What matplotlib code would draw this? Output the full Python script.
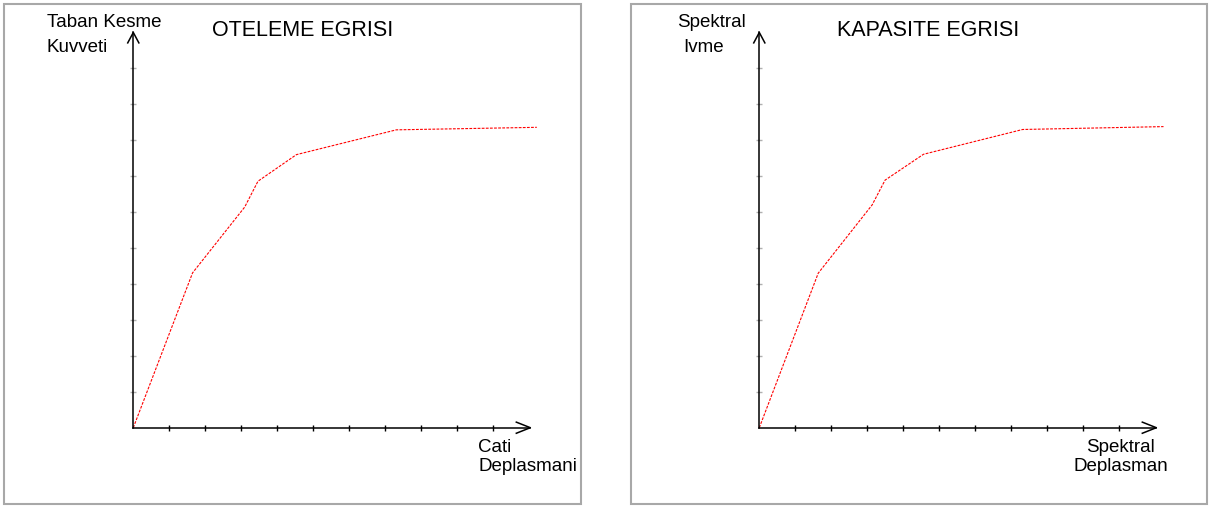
import matplotlib
matplotlib.use("Agg")
import matplotlib.pyplot as plt
from matplotlib.patches import Rectangle

# curve values, in tick units (10 ticks on each axis)
oteleme_x = [0, 1.65, 3.10, 3.47, 4.54, 7.32, 11.23]
oteleme_y = [0, 4.31, 6.14, 6.86, 7.60, 8.29, 8.36]
kapasite_x = [0, 1.64, 3.14, 3.50, 4.57, 7.33, 11.25]
kapasite_y = [0, 4.30, 6.20, 6.89, 7.61, 8.30, 8.38]
tick_pos = list(range(1, 11))

titles = ["OTELEME EGRISI", "KAPASITE EGRISI"]
ylabels = [["Taban Kesme", "Kuvveti"], ["Spektral", "Ivme"]]
xlabels = [["Cati", "Deplasmani"], ["Spektral", "Deplasman"]]

W, H = 1213, 508
fig = plt.figure(figsize=(W / 100, H / 100), dpi=100)
fig.patch.set_facecolor("white")

lab_font = ["Liberation Sans", "DejaVu Sans"]
u = 35.93  # pixels per tick

def px(x, y):
    return x / W, 1 - y / H

def panel(box, origin, xs, ys, title, title_x, ylab, ylab_x, xlab, xlab_x, xlab_ha):
    x0, y0, x1, y1 = box
    ox, oy = origin
    ax = fig.add_axes([x0 / W, 1 - y1 / H, (x1 - x0) / W, (y1 - y0) / H])
    ax.set_xlim((x0 - ox) / u, (x1 - ox) / u)
    ax.set_ylim((oy - y1) / u, (oy - y0) / u)
    ax.patch.set_alpha(0)

    for s in ["top", "right"]:
        ax.spines[s].set_visible(False)
    for s in ["left", "bottom"]:
        ax.spines[s].set_position(("data", 0))
        ax.spines[s].set_linewidth(1.1)
    ax.spines["bottom"].set_bounds(0, 11.05)
    ax.spines["left"].set_bounds(0, 11.0)
    ax.set_xticks(tick_pos)
    ax.set_yticks(tick_pos)
    ax.tick_params(axis="x", direction="inout", length=5, width=1, color="black", labelbottom=False)
    ax.tick_params(axis="y", direction="inout", length=5, width=1, color="#b0b0b0", labelleft=False)

    # arrow heads
    ax.plot([11.05 - 0.39, 11.05, 11.05 - 0.39], [0.155, 0, -0.155], color="black", lw=1.1)
    ax.plot([-0.155, 0, 0.155], [11.0 - 0.29, 11.0, 11.0 - 0.29], color="black", lw=1.1)

    ax.plot(xs, ys, color="red", lw=0.8, linestyle=(0, (2.5, 1.2)))

    ax.add_patch(Rectangle((0, 0), 1, 1, transform=ax.transAxes, fill=False,
                           edgecolor="#a8a8a8", lw=1.5, clip_on=False))

    fig.text(*px(title_x, 35.5), title, fontsize=15.5, family=lab_font, ha="center", va="baseline")
    fig.text(*px(ylab_x[0], 27.3), ylab[0], fontsize=13.5, family=lab_font, ha="left", va="baseline")
    fig.text(*px(ylab_x[1], 51.7), ylab[1], fontsize=13.5, family=lab_font, ha="left", va="baseline")
    fig.text(*px(xlab_x[0], 452.3), xlab[0], fontsize=13.5, family=lab_font, ha=xlab_ha, va="baseline")
    fig.text(*px(xlab_x[1], 470.7), xlab[1], fontsize=13.5, family=lab_font, ha=xlab_ha, va="baseline")

panel((4, 4, 581, 504), (133.3, 427.7), oteleme_x, oteleme_y,
      titles[0], 302.5, ylabels[0], (47, 47), xlabels[0], (478, 478), "left")
panel((631, 4, 1207, 504), (759.3, 427.7), kapasite_x, kapasite_y,
      titles[1], 928.3, ylabels[1], (677, 683), xlabels[1], (1120.5, 1120.5), "center")

fig.savefig("out.png", dpi=100, facecolor="white")
